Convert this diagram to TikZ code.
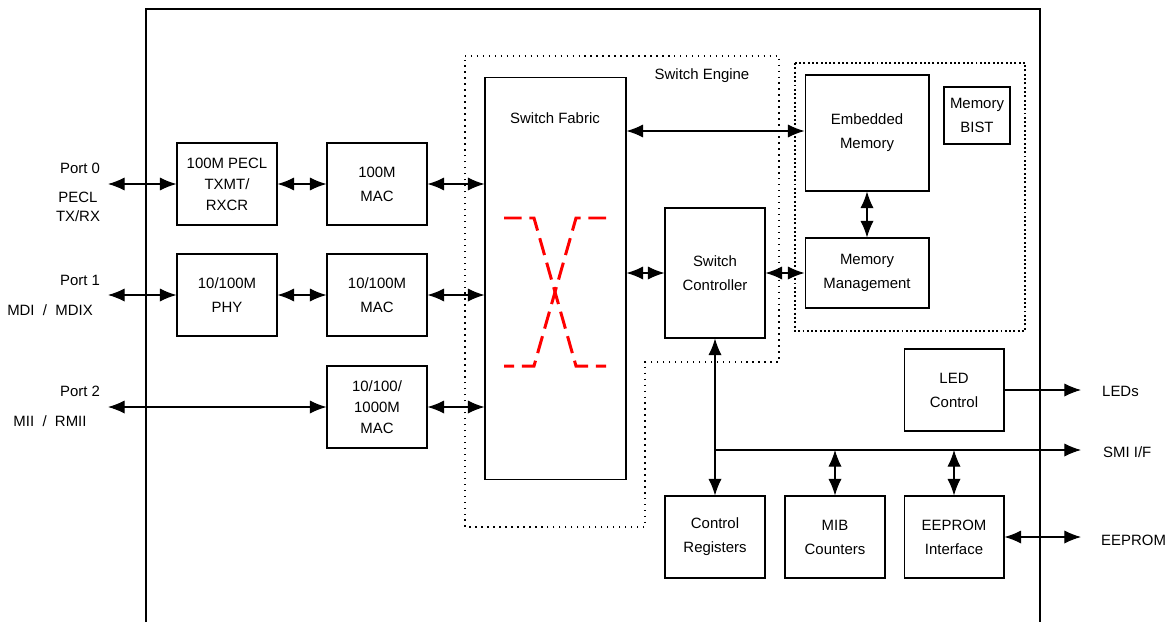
\documentclass[tikz,border=0pt]{standalone}
\usepackage{fontspec}
\setmainfont{Liberation Sans}
\usepackage{tikz}
\usetikzlibrary{arrows,arrows.meta,calc,positioning,shapes}
\tikzset{%
	block/.style    = {draw, rectangle, line width=0.6pt, minimum width=2cm, minimum height=1.64cm, align=center, font=\fontsize{8.5}{13.6}\selectfont},
	block3/.style   = {block, font=\fontsize{8.5}{12}\selectfont},
	txt/.style      = {align=center, font=\fontsize{8.5}{10.8}\selectfont},
	arrow/.style    = {line width=0.6pt, <->, >={Latex[length=9.5pt,width=7.5pt]}},
	outarrow/.style = {line width=0.6pt, ->, >={Latex[length=9.5pt,width=7.5pt]}},
	engine/.style   = {line width=0.7pt, dash pattern=on 0.8pt off 2.6pt},
	memzone/.style  = {line width=1.1pt, dash pattern=on 1.1pt off 1.35pt},
	xover/.style    = {red, line width=1.7pt, dash pattern=on 10pt off 4.5pt},
}
\begin{document}
\begin{tikzpicture}[x=0.02cm,y=-0.02cm]
		\useasboundingbox (0,0) rectangle (1168,622);
		\draw[line width=1.2pt] (146,622) -- (146,9) -- (1040,9) -- (1040,622);  % chip outline
		\draw[engine] (465,56) -- (779,56) -- (779,362) -- (645,362) -- (645,527) -- (465,527) -- cycle;  % switch engine
		\draw[memzone] (795,63) rectangle (1025,331);  % memory area
		\node[txt] (engine) at (702,76) {Switch Engine};
		% port side
		\node[block3] (pecl) at (227,184) {100M PECL\\TXMT/\\RXCR};
		\node[block] (mac0) at (377,184) {100M\\MAC};
		\node[block] (phy) at (227,295) {10/100M\\PHY};
		\node[block] (mac1) at (377,295) {10/100M\\MAC};
		\node[block3] (mac2) at (377,407) {10/100/\\1000M\\MAC};
		\node[block, minimum width=2.82cm, minimum height=8.06cm] (fabric) at (555.5,278.5) {};
		\node[txt] (fabriclbl) at (555,118) {Switch Fabric};
		\draw[xover] (504,218) -- (534,218) -- (576,366) -- (606,366);
		\draw[xover] (606,218) -- (576,218) -- (534,366) -- (504,366);
		% engine and memory
		\node[block, minimum height=2.6cm] (ctrl) at (715,273) {Switch\\Controller};
		\node[block, minimum width=2.48cm, minimum height=2.32cm] (emem) at (867,133) {Embedded\\Memory};
		\node[block, minimum width=1.32cm, minimum height=1.14cm] (bist) at (977,115.5) {Memory\\BIST};
		\node[block, minimum width=2.48cm, minimum height=1.4cm] (mmgmt) at (867,273) {Memory\\Management};
		\node[block] (led) at (954,390) {LED\\Control};
		\node[block] (creg) at (715,537) {Control\\Registers};
		\node[block] (mib) at (835,537) {MIB\\Counters};
		\node[block] (eeif) at (954,537) {EEPROM\\Interface};
		% outside labels
		\node[txt] (port0) at (80,168) {Port 0};
		\node[txt] (port0if) at (78,207) {PECL\\TX/RX};
		\node[txt] (port1) at (80,280) {Port 1};
		\node[txt] (port1if) at (50,310) {MDI \ / \ MDIX};
		\node[txt] (port2) at (80,391) {Port 2};
		\node[txt] (port2if) at (50,421) {MII \ / \ RMII};
		\node[txt, anchor=west] (leds) at (1096,391) {LEDs};
		\node[txt, anchor=west] (smi) at (1097,452) {SMI I/F};
		\node[txt, anchor=west] (eeprom) at (1095,540) {EEPROM};
		\coordinate (p0) at (108,184);
		\coordinate (p1) at (108,295);
		\coordinate (p2) at (108,407);
		\coordinate (ledend) at (1081,390);
		\coordinate (smiend) at (1081,450);
		\coordinate (eepend) at (1081,537);
		% connectors
		\draw[arrow] (p0) -- (pecl);
		\draw[arrow] (pecl) -- (mac0);
		\draw[arrow] (mac0) -- (mac0 -| fabric.west);
		\draw[arrow] (p1) -- (phy);
		\draw[arrow] (phy) -- (mac1);
		\draw[arrow] (mac1) -- (mac1 -| fabric.west);
		\draw[arrow] (p2) -- (mac2);
		\draw[arrow] (mac2) -- (mac2 -| fabric.west);
		\draw[arrow] (emem.west |- 0,131) -- (fabric.east |- 0,131);
		\draw[arrow] (ctrl.west) -- (ctrl.west -| fabric.east);
		\draw[arrow] (ctrl) -- (mmgmt);
		\draw[arrow] (emem) -- (mmgmt);
		\draw[arrow] (ctrl) -- (creg);
		\draw[outarrow] (ctrl.south |- smiend) -- (smiend);
		\draw[arrow] (mib |- smiend) -- (mib);
		\draw[arrow] (eeif |- smiend) -- (eeif);
		\draw[outarrow] (led) -- (ledend);
		\draw[arrow] (eeif) -- (eepend);
		\end{tikzpicture}
\end{document}
